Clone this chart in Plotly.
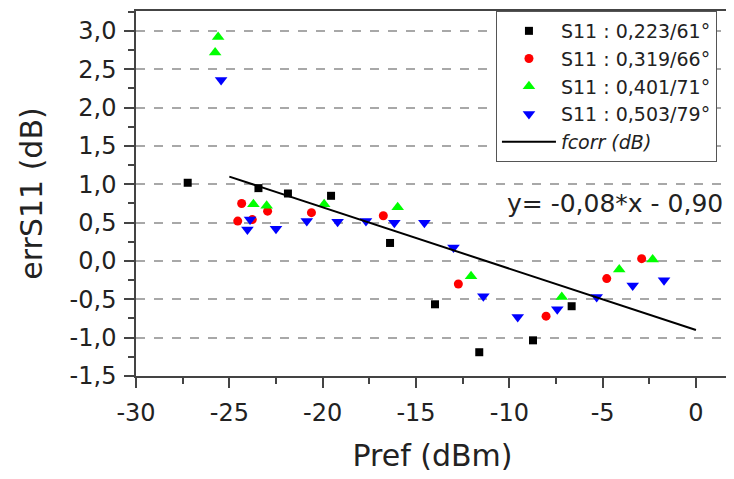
import plotly.graph_objects as go

# ---- data ----
s1_name = "S11 : 0,223/61°"
s1_x = [-27.23, -23.44, -21.86, -19.55, -16.39, -13.98, -11.61, -8.73, -6.66]
s1_y = [1.02, 0.95, 0.88, 0.85, 0.235, -0.565, -1.19, -1.035, -0.59]

s2_name = "S11 : 0,319/66°"
s2_x = [-24.55, -24.34, -23.77, -22.95, -20.6, -16.75, -12.73, -8.03, -4.78, -2.91]
s2_y = [0.52, 0.75, 0.54, 0.65, 0.63, 0.59, -0.30, -0.72, -0.23, 0.03]

s3_name = "S11 : 0,401/71°"
s3_x = [-25.76, -25.6, -23.71, -23.0, -19.92, -15.98, -12.05, -7.19, -4.11, -2.32]
s3_y = [2.72, 2.92, 0.74, 0.72, 0.74, 0.70, -0.20, -0.47, -0.11, 0.02]

s4_name = "S11 : 0,503/79°"
s4_x = [-25.44, -24.03, -23.89, -22.5, -20.85, -19.2, -17.68, -16.16, -14.55,
        -12.99, -11.39, -9.55, -7.43, -5.32, -3.39, -1.71]
s4_y = [2.36, 0.41, 0.54, 0.42, 0.52, 0.51, 0.52, 0.50, 0.50,
        0.175, -0.46, -0.73, -0.63, -0.47, -0.32, -0.25]

fit_name = "fcorr (dB)"
fit_x = [-25.0, 0.0]
fit_y = [1.10, -0.90]
fit_label = "y= -0,08*x - 0,90"

x_tickvals = [-30, -25, -20, -15, -10, -5, 0]
x_ticktext = ["-30", "-25", "-20", "-15", "-10", "-5", "0"]
y_tickvals = [-1.5, -1.0, -0.5, 0.0, 0.5, 1.0, 1.5, 2.0, 2.5, 3.0]
y_ticktext = ["-1,5", "-1,0", "-0,5", "0,0", "0,5", "1,0", "1,5", "2,0", "2,5", "3,0"]

FONT = "DejaVu Sans"

fig = go.Figure()
fig.add_trace(go.Scatter(x=s1_x, y=s1_y, mode="markers", name=s1_name,
                         marker=dict(symbol="square", size=8, color="#000000")))
fig.add_trace(go.Scatter(x=s2_x, y=s2_y, mode="markers", name=s2_name,
                         marker=dict(symbol="circle", size=9, color="#ff0000")))
fig.add_trace(go.Scatter(x=s3_x, y=s3_y, mode="markers", name=s3_name,
                         marker=dict(symbol="triangle-up", size=11, color="#00ff00")))
fig.add_trace(go.Scatter(x=s4_x, y=s4_y, mode="markers", name=s4_name,
                         marker=dict(symbol="triangle-down", size=11, color="#0000ff")))
fig.add_trace(go.Scatter(x=fit_x, y=fit_y, mode="lines", name="<i>" + fit_name + "</i>",
                         line=dict(color="#000000", width=2)))

fig.add_annotation(x=1.55, y=0.75, xref="x", yref="y", text=fit_label,
                   showarrow=False, xanchor="right", yanchor="middle",
                   font=dict(family=FONT, size=25, color="#222222"))

fig.update_layout(
    width=726, height=471,
    margin=dict(l=128, r=5, t=3, b=103, autoexpand=False),
    paper_bgcolor="white", plot_bgcolor="white",
    font=dict(family=FONT, color="#222222"),
    showlegend=True,
    legend=dict(x=0.607, y=1.0, xanchor="left", yanchor="top",
                bgcolor="white", bordercolor="#555555", borderwidth=1,
                font=dict(family=FONT, size=19, color="#222222"),
                itemwidth=54, tracegroupgap=0),
)

fig.update_xaxes(
    range=[-30, 1.77], tickmode="array", tickvals=x_tickvals, ticktext=x_ticktext,
    automargin=True, ticklabelstandoff=4,
    showgrid=False, zeroline=False, showline=True, linecolor="#444444", linewidth=1.5,
    mirror=True, ticks="outside", ticklen=10, tickwidth=1.5, tickcolor="#444444",
    tickfont=dict(family=FONT, size=24, color="#222222"),
    minor=dict(dtick=2.5, tick0=-30, ticks="outside", ticklen=6, tickwidth=1.5, tickcolor="#444444", showgrid=False),
    title=dict(text="Pref (dBm)", font=dict(family=FONT, size=30, color="#222222"), standoff=19),
)
fig.update_yaxes(
    range=[-1.5, 3.26], tickmode="array", tickvals=y_tickvals, ticktext=y_ticktext,
    automargin=True, ticklabelstandoff=3,
    showgrid=True, gridcolor="#a8a8a8", gridwidth=1.5, griddash="dash",
    zeroline=False, showline=True, linecolor="#444444", linewidth=1.5, mirror=False,
    ticks="outside", ticklen=10, tickwidth=1.5, tickcolor="#444444",
    tickfont=dict(family=FONT, size=24, color="#222222"),
    minor=dict(dtick=0.25, tick0=-1.5, ticks="outside", ticklen=6, tickwidth=1.5, tickcolor="#444444", showgrid=False),
    title=dict(text="errS11 (dB)", font=dict(family=FONT, size=30, color="#222222"), standoff=18),
)

fig.write_html("out.html")
